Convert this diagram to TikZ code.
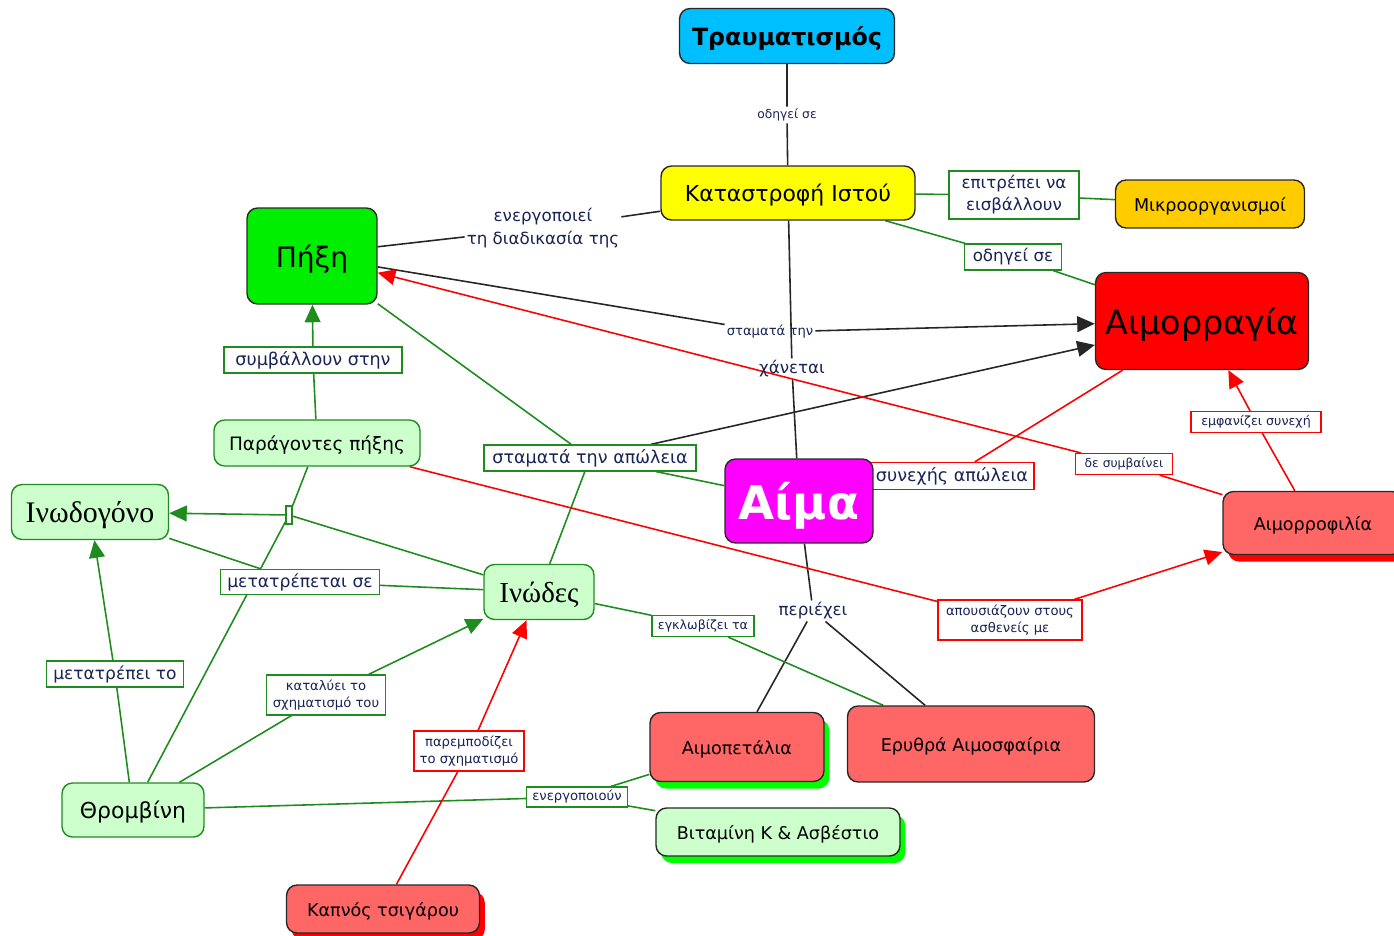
\documentclass[tikz,border=0pt]{standalone}
\usepackage{fontspec}
\setmainfont{DejaVu Sans}
\newfontfamily\grserif{Liberation Serif}
\usepackage{xcolor}
\usepackage{tikz}
\usetikzlibrary{arrows.meta, positioning, shadows, backgrounds}
\definecolor{ciano}{RGB}{0,191,255}
\definecolor{giallo}{RGB}{255,255,0}
\definecolor{arancio}{RGB}{255,204,0}
\definecolor{rosso}{RGB}{255,0,0}
\definecolor{verdeacceso}{RGB}{0,238,0}
\definecolor{verdechiaro}{RGB}{204,255,204}
\definecolor{rosachiaro}{RGB}{255,102,102}
\definecolor{fucsia}{RGB}{255,0,255}
\definecolor{verdelinea}{RGB}{30,140,30}
\definecolor{bordo}{RGB}{40,40,40}
\definecolor{testolegame}{RGB}{25,35,85}
\definecolor{ombraverde}{RGB}{0,255,0}

\begin{document}
\begin{tikzpicture}[x=0.02cm, y=-0.02cm,
        concetto/.style={draw=bordo, rounded corners=6pt, line width=0.8pt, align=center, inner sep=2pt, text=black, text depth=0pt},
        verdino/.style={concetto, fill=verdechiaro, draw=verdelinea},
        rosa/.style={concetto, fill=rosachiaro},
        ombra/.style={drop shadow={fill=#1, opacity=1, shadow xshift=3pt, shadow yshift=-4pt}},
        legame/.style={draw=verdelinea, fill=white, line width=0.7pt, align=center, inner sep=1pt, text=testolegame},
        legamerosso/.style={legame, draw=rosso},
        libero/.style={align=center, inner sep=1pt, text=testolegame},
        lineaverde/.style={draw=verdelinea, line width=0.9pt},
        linearossa/.style={draw=rosso, line width=0.9pt},
        lineanera/.style={draw=black!85, line width=0.9pt},
        punta/.style={-{Triangle[length=10pt, width=9pt]}}
    ]
    \useasboundingbox (0,0) rectangle (1394,936);

    % Legami (prima dei concetti)
    \node[libero, font=\fontsize{7}{9}\selectfont] (porta) at (787,115) {οδηγεί σε};
    \node[libero, font=\fontsize{9.5}{13.5}\selectfont] (attiva) at (543,228) {ενεργοποιεί\\τη διαδικασία της};
    \node[libero, font=\fontsize{7.5}{9}\selectfont] (ferma) at (770,332) {σταματά την};
    \node[libero, font=\fontsize{9.5}{11}\selectfont] (perde) at (792,369) {χάνεται};
    \node[libero, font=\fontsize{9.5}{11}\selectfont] (contiene) at (813,611) {περιέχει};
    \node[legame, minimum width=2.6cm, minimum height=0.96cm, font=\fontsize{9.5}{12.5}\selectfont] (invadere) at (1014,195) {επιτρέπει να\\εισβάλλουν};
    \node[legame, minimum width=1.94cm, minimum height=0.52cm, font=\fontsize{9.5}{11}\selectfont] (porta2) at (1013,257) {οδηγεί σε};
    \node[legame, minimum width=3.56cm, minimum height=0.52cm, font=\fontsize{10}{12}\selectfont] (contribuisce) at (313,360) {συμβάλλουν στην};
    \node[legame, minimum width=4.24cm, minimum height=0.52cm, font=\fontsize{10}{12}\selectfont] (fermaperdita) at (590,458) {σταματά την απώλεια};
    \node[legamerosso, minimum width=3.28cm, minimum height=0.54cm, font=\fontsize{10}{12}\selectfont] (continua) at (952,476) {συνεχής απώλεια};
    \node[legamerosso, minimum width=1.94cm, minimum height=0.42cm, font=\fontsize{7}{9}\selectfont] (nonavviene) at (1124,464) {δε συμβαίνει};
    \node[legamerosso, minimum width=2.6cm, minimum height=0.42cm, font=\fontsize{7.2}{9}\selectfont] (mostra) at (1256,422) {εμφανίζει συνεχή};
    \node[legame, minimum width=3.18cm, minimum height=0.5cm, font=\fontsize{9.8}{12}\selectfont] (diventa) at (300,582) {μετατρέπεται σε};
    \node[legame, minimum width=2.74cm, minimum height=0.52cm, font=\fontsize{9.7}{12}\selectfont] (converte) at (115,674) {μετατρέπει το};
    \node[legame, minimum width=2.38cm, minimum height=0.8cm, font=\fontsize{7.5}{10}\selectfont] (catalizza) at (326,695) {καταλύει το\\σχηματισμό του};
    \node[legamerosso, minimum width=2.2cm, minimum height=0.8cm, font=\fontsize{7.5}{10}\selectfont] (ostacola) at (469,751) {παρεμποδίζει\\το σχηματισμό};
    \node[legame, minimum width=2.02cm, minimum height=0.4cm, font=\fontsize{7.5}{9}\selectfont] (attivano) at (577,797) {ενεργοποιούν};
    \node[legame, minimum width=2.04cm, minimum height=0.42cm, font=\fontsize{7.2}{9}\selectfont] (intrappola) at (703,626) {εγκλωβίζει τα};
    \node[legamerosso, minimum width=2.88cm, minimum height=0.8cm, font=\fontsize{7.5}{10}\selectfont] (mancano) at (1010,620) {απουσιάζουν στους\\ασθενείς με};
    \node[legame, minimum width=0.12cm, minimum height=0.36cm, inner sep=0pt] (nodo) at (289,515) {};

    % Concetti
    \node[concetto, fill=ciano, minimum width=4.3cm, minimum height=1.1cm, font=\fontsize{13.5}{16}\selectfont\bfseries] (trauma) at (787,36) {Τραυματισμός};
    \node[concetto, fill=giallo, minimum width=5.08cm, minimum height=1.08cm, font=\fontsize{12.5}{15}\selectfont] (istos) at (788,193) {Καταστροφή Ιστού};
    \node[concetto, fill=arancio, minimum width=3.78cm, minimum height=0.96cm, font=\fontsize{10}{12}\selectfont] (micro) at (1210,204) {Μικροοργανισμοί};
    \node[concetto, fill=rosso, minimum width=4.26cm, minimum height=1.94cm, font=\fontsize{19}{23}\selectfont] (emorragia) at (1202,321) {Αιμορραγία};
    \node[concetto, fill=verdeacceso, minimum width=2.6cm, minimum height=1.92cm, font=\fontsize{16}{19}\selectfont] (pixi) at (312,256) {Πήξη};
    \node[verdino, minimum width=4.12cm, minimum height=0.92cm, font=\fontsize{10.5}{12}\selectfont] (fattori) at (317,443) {Παράγοντες πήξης};
    \node[verdino, minimum width=3.14cm, minimum height=1.1cm, font=\grserif\fontsize{17}{20}\selectfont] (fibrinogeno) at (90,512) {Ινωδογόνο};
    \node[verdino, minimum width=2.2cm, minimum height=1.1cm, font=\grserif\fontsize{16.5}{20}\selectfont] (fibrina) at (539,592) {Ινώδες};
    \node[concetto, fill=fucsia, text=white, minimum width=2.96cm, minimum height=1.68cm, font=\fontsize{26.5}{32}\selectfont\bfseries] (sangue) at (799,501) {Αίμα};
    \node[rosa, ombra=rosso, minimum width=3.6cm, minimum height=1.26cm, font=\fontsize{10}{12}\selectfont] (emofilia) at (1313,523) {Αιμορροφιλία};
    \node[verdino, minimum width=2.84cm, minimum height=1.08cm, font=\fontsize{12.5}{15}\selectfont] (trombina) at (133,810) {Θρομβίνη};
    \node[rosa, ombra=ombraverde, minimum width=3.48cm, minimum height=1.38cm, font=\fontsize{10}{12}\selectfont] (piastrine) at (737,747) {Αιμοπετάλια};
    \node[rosa, minimum width=4.94cm, minimum height=1.52cm, font=\fontsize{10}{12}\selectfont] (globuli) at (971,744) {Ερυθρά Αιμοσφαίρια};
    \node[concetto, fill=verdechiaro, ombra=ombraverde, minimum width=4.88cm, minimum height=0.96cm, font=\fontsize{10}{12}\selectfont] (vitamina) at (778,832) {Βιταμίνη Κ \& Ασβέστιο};
    \node[rosa, ombra=rosso, minimum width=3.86cm, minimum height=0.96cm, font=\fontsize{10}{12}\selectfont] (fumo) at (383,909) {Καπνός τσιγάρου};

    \begin{pgfonlayer}{background}
        % Collegamenti neri
        \draw[lineanera] (trauma) -- (porta) -- (istos);
        \draw[lineanera] (istos) -- (attiva);
        \draw[lineanera] (attiva) -- (pixi.8);
        \draw[lineanera] (istos) -- (perde) -- (sangue);
        \draw[lineanera] (pixi) -- (ferma);
        \draw[lineanera, punta] (ferma) -- (emorragia);
        \draw[lineanera, punta] (fermaperdita) -- (emorragia);
        \draw[lineanera] (sangue) -- (contiene);
        \draw[lineanera] (contiene) -- ([xshift=0.4cm]piastrine.north);
        \draw[lineanera] (contiene) -- (globuli);

        % Collegamenti verdi
        \draw[lineaverde] (istos) -- (invadere) -- (micro);
        \draw[lineaverde] (istos) -- (porta2) -- (emorragia);
        \draw[lineaverde] (fattori) -- (contribuisce);
        \draw[lineaverde, punta] (contribuisce) -- (pixi);
        \draw[lineaverde] (pixi) -- (fermaperdita) -- (sangue);
        \draw[lineaverde] (fibrina) -- (fermaperdita);
        \draw[lineaverde] (fattori) -- (nodo);
        \draw[lineaverde] (trombina) -- (nodo);
        \draw[lineaverde] (fibrina) -- (nodo);
        \draw[lineaverde, punta] (nodo) -- (fibrinogeno);
        \draw[lineaverde] (fibrinogeno) -- (diventa) -- (fibrina);
        \draw[lineaverde] (trombina) -- (converte);
        \draw[lineaverde, punta] (converte) -- (fibrinogeno);
        \draw[lineaverde] (trombina) -- (catalizza);
        \draw[lineaverde, punta] (catalizza) -- (fibrina);
        \draw[lineaverde] (trombina) -- (attivano) -- (piastrine);
        \draw[lineaverde] (attivano) -- (vitamina);
        \draw[lineaverde] (fibrina) -- (intrappola) -- (globuli);

        % Collegamenti rossi
        \draw[linearossa] (emorragia) -- (continua) -- (sangue);
        \draw[linearossa] (emofilia) -- (mostra);
        \draw[linearossa, punta] (mostra) -- (emorragia);
        \draw[linearossa] (emofilia) -- (nonavviene);
        \draw[linearossa, punta] (nonavviene) -- (pixi);
        \draw[linearossa] (fattori) -- (mancano);
        \draw[linearossa, punta] (mancano) -- (emofilia);
        \draw[linearossa] (fumo) -- (ostacola);
        \draw[linearossa, punta] (ostacola) -- (fibrina);
    \end{pgfonlayer}
\end{tikzpicture}
\end{document}
